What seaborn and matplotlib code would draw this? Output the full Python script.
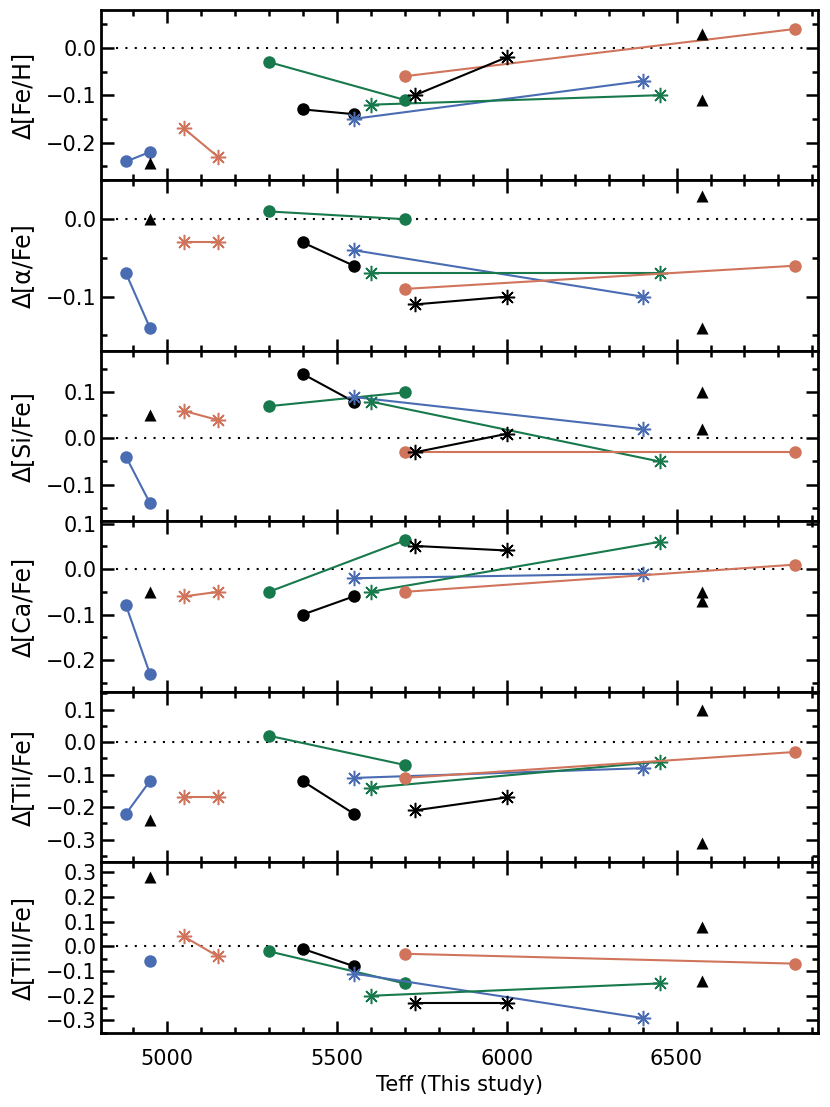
import matplotlib
matplotlib.use("Agg")
import matplotlib.pyplot as plt
from matplotlib.ticker import MultipleLocator, FuncFormatter
import seaborn as sns
import pandas as pd

sns.set_theme(style="ticks")
plt.rcParams['font.family'] = ['Liberation Sans Narrow', 'DejaVu Sans']
plt.rcParams['text.color'] = 'black'
plt.rcParams['axes.labelcolor'] = 'black'
plt.rcParams['xtick.color'] = 'black'
plt.rcParams['ytick.color'] = 'black'

# element ratios, one panel each
panels = ['Δ[Fe/H]', 'Δ[α/Fe]', 'Δ[Si/Fe]', 'Δ[Ca/Fe]', 'Δ[TiI/Fe]', 'Δ[TiII/Fe]']
ylims = [(-0.28, 0.08), (-0.17, 0.05), (-0.18, 0.19), (-0.27, 0.105), (-0.37, 0.155), (-0.35, 0.34)]

# Teff of each star pair (this study)
teff_blue_dot = [4880, 4950]
teff_red_star = [5050, 5150]
teff_green_dot = [5300, 5700]
teff_black_dot = [5400, 5550]
teff_blue_star = [5550, 6400]
teff_green_star = [5600, 6450]
teff_red_dot = [5700, 6850]
teff_black_star = [5730, 6000]
teff_tri_left = [4950]
teff_tri_right = [6575, 6575]

# differences per panel: [FeH, alpha, Si, Ca, TiI, TiII]
blue_dot = [[-0.24, -0.22], [-0.07, -0.14], [-0.04, -0.14], [-0.08, -0.23], [-0.22, -0.12], [None, -0.06]]
red_star = [[-0.17, -0.23], [-0.03, -0.03], [0.06, 0.04], [-0.06, -0.05], [-0.17, -0.17], [0.04, -0.04]]
green_dot = [[-0.03, -0.11], [0.01, 0.0], [0.07, 0.10], [-0.05, 0.063], [0.02, -0.07], [-0.02, -0.15]]
black_dot = [[-0.13, -0.14], [-0.03, -0.06], [0.14, 0.08], [-0.10, -0.06], [-0.12, -0.22], [-0.01, -0.08]]
blue_star = [[-0.15, -0.07], [-0.04, -0.10], [0.09, 0.02], [-0.02, -0.01], [-0.11, -0.08], [-0.11, -0.29]]
green_star = [[-0.12, -0.10], [-0.07, -0.07], [0.08, -0.05], [-0.05, 0.06], [-0.14, -0.06], [-0.20, -0.15]]
red_dot = [[-0.06, 0.04], [-0.09, -0.06], [-0.03, -0.03], [-0.05, 0.01], [-0.11, -0.03], [-0.03, -0.07]]
black_star = [[-0.10, -0.02], [-0.11, -0.10], [-0.03, 0.01], [0.051, 0.041], [-0.21, -0.17], [-0.23, -0.23]]
tri_left = [[-0.243], [0.0], [0.05], [-0.05], [-0.24], [0.28]]
tri_right = [[0.03, -0.11], [0.03, -0.14], [0.10, 0.02], [-0.05, -0.07], [0.10, -0.31], [0.08, -0.14]]

BLUE = '#4a6cb3'
RED = '#d0745b'
GREEN = '#17794c'
BLACK = '#000000'
ASTER = (8, 2, 0)

series = [
    (teff_blue_dot, blue_dot, BLUE, 'o'),
    (teff_red_star, red_star, RED, ASTER),
    (teff_green_dot, green_dot, GREEN, 'o'),
    (teff_black_dot, black_dot, BLACK, 'o'),
    (teff_blue_star, blue_star, BLUE, ASTER),
    (teff_green_star, green_star, GREEN, ASTER),
    (teff_red_dot, red_dot, RED, 'o'),
    (teff_black_star, black_star, BLACK, ASTER),
]

fig, axes = plt.subplots(6, 1, figsize=(8.3, 11.07), dpi=100, sharex=True)
fig.subplots_adjust(left=0.122, right=0.985, top=0.991, bottom=0.067, hspace=0)


def fmt(v, p):
    if abs(v) < 1e-9:
        return '0.0'
    return ('%.1f' % v).replace('-', '\u2212')


for i, ax in enumerate(axes):
    ax.axhline(0, color='black', ls=(0, (1, 3.5)), lw=1.5, xmin=0.02, xmax=0.98, zorder=1)
    for teff, vals, col, mk in series:
        df = pd.DataFrame({'teff': teff, 'val': vals[i]}).dropna()
        if mk == 'o':
            sns.lineplot(data=df, x='teff', y='val', ax=ax, color=col, lw=1.5, sort=False,
                         estimator=None, marker='o', markersize=9, markeredgewidth=0, zorder=3)
        else:
            sns.lineplot(data=df, x='teff', y='val', ax=ax, color=col, lw=1.5, sort=False,
                         estimator=None, marker=mk, markersize=11, markeredgewidth=1.1,
                         markeredgecolor=col, zorder=3)
    tri = pd.DataFrame({'teff': teff_tri_left + teff_tri_right, 'val': tri_left[i] + tri_right[i]})
    sns.scatterplot(data=tri, x='teff', y='val', ax=ax, color='black', marker='^', s=75,
                    linewidth=0, zorder=4)

    ax.set_xlim(4807, 6915)
    ax.set_ylim(*ylims[i])
    ax.yaxis.set_major_locator(MultipleLocator(0.1))
    ax.yaxis.set_minor_locator(MultipleLocator(0.05))
    ax.xaxis.set_major_locator(MultipleLocator(500))
    ax.xaxis.set_minor_locator(MultipleLocator(100))
    ax.tick_params(which='both', direction='in', top=True, right=True, width=1.8, labelsize=15)
    ax.tick_params(which='major', length=9)
    ax.tick_params(which='minor', length=4.5)
    for sp in ax.spines.values():
        sp.set_linewidth(2)
        sp.set_color('black')
    ax.set_ylabel(panels[i], fontsize=17, labelpad=8)
    ax.set_xlabel('')
    ax.yaxis.set_major_formatter(FuncFormatter(fmt))

axes[-1].set_xlabel('Teff (This study)', fontsize=15)
axes[-1].tick_params(axis='x', pad=12)

fig.savefig('out.png', dpi=100)
